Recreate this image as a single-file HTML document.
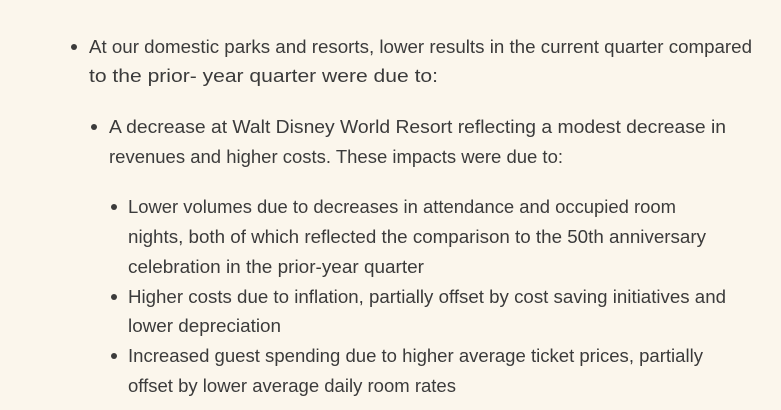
<!DOCTYPE html>
<html><head><meta charset="utf-8"><style>
html,body{margin:0;padding:0;background:#fbf6ec;}
svg{display:block}
text{font-family:"Liberation Sans",sans-serif;font-size:18px;fill:#3b3b3b;}
</style></head><body>
<svg width="781" height="410" xmlns="http://www.w3.org/2000/svg">
<rect width="781" height="410" fill="#fbf6ec"/>
<circle cx="74" cy="47" r="3" fill="#3b3b3b"/>
<circle cx="94" cy="127" r="3" fill="#3b3b3b"/>
<circle cx="114" cy="207" r="3" fill="#3b3b3b"/>
<circle cx="114" cy="297" r="3" fill="#3b3b3b"/>
<circle cx="114" cy="356" r="3" fill="#3b3b3b"/>
<text x="89" y="53" textLength="663" lengthAdjust="spacingAndGlyphs">At our domestic parks and resorts, lower results in the current quarter compared</text>
<text x="89" y="82" textLength="349" lengthAdjust="spacingAndGlyphs">to the prior- year quarter were due to:</text>
<text x="109" y="133" textLength="617" lengthAdjust="spacingAndGlyphs">A decrease at Walt Disney World Resort reflecting a modest decrease in</text>
<text x="109" y="163" textLength="454" lengthAdjust="spacingAndGlyphs">revenues and higher costs. These impacts were due to:</text>
<text x="128" y="213" textLength="548" lengthAdjust="spacingAndGlyphs">Lower volumes due to decreases in attendance and occupied room</text>
<text x="128" y="243" textLength="578" lengthAdjust="spacingAndGlyphs">nights, both of which reflected the comparison to the 50th anniversary</text>
<text x="128" y="273" textLength="296" lengthAdjust="spacingAndGlyphs">celebration in the prior-year quarter</text>
<text x="128" y="303" textLength="598" lengthAdjust="spacingAndGlyphs">Higher costs due to inflation, partially offset by cost saving initiatives and</text>
<text x="128" y="332" textLength="153" lengthAdjust="spacingAndGlyphs">lower depreciation</text>
<text x="128" y="362" textLength="575" lengthAdjust="spacingAndGlyphs">Increased guest spending due to higher average ticket prices, partially</text>
<text x="128" y="392" textLength="328" lengthAdjust="spacingAndGlyphs">offset by lower average daily room rates</text>
</svg>
</body></html>
